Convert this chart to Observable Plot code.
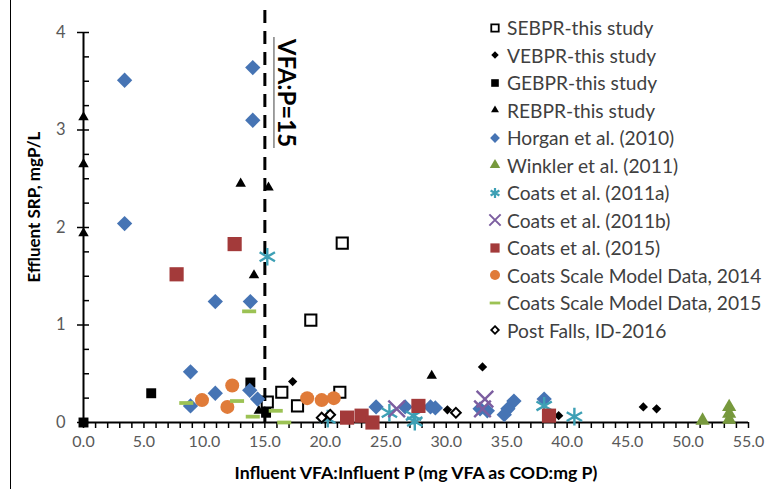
<!DOCTYPE html>
<html><head><meta charset="utf-8">
<script src="https://cdn.jsdelivr.net/npm/d3@7"></script>
<script src="https://cdn.jsdelivr.net/npm/@observablehq/plot@0.6"></script>
<style>
body{margin:0;background:#fff;}
#wrap{position:relative;width:771px;height:489px;overflow:hidden;font-family:Lato,"Open Sans",sans-serif;background:#fff;}
#frame{position:absolute;left:10px;top:-2px;width:800px;height:600px;border:1px solid #000;box-sizing:border-box;}
#legend{position:absolute;left:487px;top:14px;}
.row{height:27.5px;display:flex;align-items:center;font-size:19.2px;color:#404040;white-space:nowrap;}
.row svg{width:16px;height:16px;margin-right:4px;flex:none;}
#ytitle{position:absolute;left:33px;top:207px;transform:translate(-50%,-50%) rotate(-90deg);font-weight:bold;font-size:17px;color:#000;white-space:nowrap;}
#xtitle{position:absolute;left:416px;top:472px;transform:translate(-50%,-50%);font-weight:bold;font-size:17.7px;color:#000;white-space:nowrap;}
</style></head><body>
<div id="wrap"><div id="frame"></div></div>
<script>
// ---- data ----
const sebprX = [21.4, 18.8, 16.4, 17.7, 21.2, 15.2];
const sebprY = [1.84, 1.05, 0.31, 0.17, 0.31, 0.21];
const vebprX = [17.3, 15.0, 30.1, 33.0, 39.3, 46.3, 47.4];
const vebprY = [0.42, 0.12, 0.13, 0.57, 0.07, 0.16, 0.14];
const gebprX = [0, 5.6, 13.8, 15.1];
const gebprY = [0, 0.30, 0.41, 0.10];
const rebprX = [0, 0, 0, 13.0, 15.3, 14.1, 28.8, 14.5];
const rebprY = [3.13, 2.65, 1.94, 2.45, 2.41, 1.51, 0.48, 0.12];
const horganX = [3.4, 14.0, 14.0, 3.4, 10.9, 13.8, 8.85, 10.9, 8.85, 13.75, 14.4, 24.2, 26.6, 28.7, 29.1, 32.8, 33.4, 35.6, 35.1, 34.8, 38.1];
const horganY = [3.51, 3.64, 3.10, 2.04, 1.24, 1.24, 0.52, 0.30, 0.17, 0.33, 0.24, 0.16, 0.16, 0.16, 0.15, 0.14, 0.12, 0.22, 0.14, 0.08, 0.24];
const winklerX = [51.2, 53.4, 53.4, 53.4];
const winklerY = [0.02, 0.16, 0.09, 0.03];
const coats11aX = [15.2, 20.2, 25.3, 27.3, 27.4, 38.1, 40.6];
const coats11aY = [1.70, 0.04, 0.10, 0.07, 0.01, 0.17, 0.06];
const coats11bX = [25.9, 33.2, 33.0];
const coats11bY = [0.14, 0.24, 0.14];
const coats15X = [7.7, 12.5, 21.8, 23.0, 23.9, 27.7, 38.5];
const coats15Y = [1.52, 1.83, 0.05, 0.07, 0.0, 0.17, 0.07];
const model14X = [9.8, 11.9, 12.3, 18.5, 19.7, 20.7];
const model14Y = [0.23, 0.16, 0.38, 0.25, 0.23, 0.25];
const model15X = [8.5, 12.7, 13.7, 14.0, 15.9, 16.6];
const model15Y = [0.20, 0.22, 1.14, 0.06, 0.12, 0.0];
const postX = [19.7, 20.4, 30.8];
const postY = [0.05, 0.08, 0.10];

const xTickLabels = [0, 5, 10, 15, 20, 25, 30, 35, 40, 45, 50, 55];
const yTickLabels = [0, 1, 2, 3, 4];
const thresholdVFAP = 15;
const annotation = "VFA:P=15";
const xTitle = "Influent VFA:Influent P (mg VFA as COD:mg P)";
const yTitle = "Effluent SRP, mgP/L";

// custom dash symbol
const dash = {draw(ctx, size){const w = Math.sqrt(size); ctx.rect(-w*0.6, -w*0.16, w*1.2, w*0.32);}};
const symbolMap = {square: d3.symbolSquare, diamond2: d3.symbolDiamond2, triangle2: d3.symbolTriangle2,
  asterisk: d3.symbolAsterisk, times: d3.symbolTimes, circle: d3.symbolCircle};

const series = [
  {name:"SEBPR-this study", xs:sebprX, ys:sebprY, symbol:"square", r:6.3, fill:"none", stroke:"#000", sw:2, lr:4.2, lsw:1.8},
  {name:"VEBPR-this study", xs:vebprX, ys:vebprY, symbol:"diamond2", r:4.2, fill:"#000", stroke:"none", sw:0, lr:3.4},
  {name:"GEBPR-this study", xs:gebprX, ys:gebprY, symbol:"square", r:5.6, fill:"#000", stroke:"none", sw:0, lr:4.3},
  {name:"REBPR-this study", xs:rebprX, ys:rebprY, symbol:"triangle2", r:5.0, fill:"#000", stroke:"none", sw:0, lr:3.8},
  {name:"Horgan et al. (2010)", xs:horganX, ys:horganY, symbol:"diamond2", r:6.9, fill:"#4674b4", stroke:"none", sw:0, lr:4.4},
  {name:"Winkler et al. (2011)", xs:winklerX, ys:winklerY, symbol:"triangle2", r:6.8, fill:"#77993d", stroke:"none", sw:0, lr:5.0},
  {name:"Coats et al. (2011a)", xs:coats11aX, ys:coats11aY, symbol:"asterisk", r:8.4, fill:"none", stroke:"#3ea0b5", sw:2.4, lr:4.8, lsw:2.2},
  {name:"Coats et al. (2011b)", xs:coats11bX, ys:coats11bY, symbol:"times", r:7.6, fill:"none", stroke:"#7c5ea0", sw:2.4, lr:5.2, lsw:2},
  {name:"Coats et al. (2015)", xs:coats15X, ys:coats15Y, symbol:"square", r:8.0, fill:"#a33a3a", stroke:"none", sw:0, lr:5.2},
  {name:"Coats Scale Model Data, 2014", xs:model14X, ys:model14Y, symbol:"circle", r:7.0, fill:"#e07b39", stroke:"none", sw:0, lr:5.0},
  {name:"Coats Scale Model Data, 2015", xs:model15X, ys:model15Y, symbol:dash, r:6.6, fill:"#9cc254", stroke:"none", sw:0, lr:5.0},
  {name:"Post Falls, ID-2016", xs:postX, ys:postY, symbol:"diamond2", r:4.4, fill:"#fff", stroke:"#000", sw:2, lr:3.4, lsw:1.8}
];

const dotMarks = series.map(s => Plot.dot(s.xs.map((x,i)=>({x, y:s.ys[i]})), {
  x:"x", y:"y", symbol: s.symbol, r: s.r, fill: s.fill, stroke: s.stroke, strokeWidth: s.sw
}));

const chart = Plot.plot({
  width: 771, height: 489,
  marginLeft: 83, marginRight: 23, marginTop: 32, marginBottom: 67,
  x: {domain: [0, 55], label: null},
  y: {domain: [0, 4], label: null},
  style: {fontFamily: "Lato, 'Open Sans', sans-serif", fontSize: "16px", color: "#595959", background: "transparent", overflow: "visible"},
  marks: [
    Plot.axisX({ticks: d3.range(0, 56, 1), tickSize: 6, tickFormat: () => "", stroke: "#000", strokeWidth: 1.5, label: null}),
    Plot.axisX({ticks: xTickLabels, tickSize: 0, tickPadding: 13, tickFormat: d => d.toFixed(1), fill: "#595959", fontSize: 16, label: null}),
    Plot.axisY({ticks: d3.range(0, 4.001, 0.25), tickSize: 6, dx: 6, tickFormat: () => "", stroke: "#000", strokeWidth: 1.5, label: null}),
    Plot.axisY({ticks: yTickLabels, tickSize: 6, tickPadding: 12, tickFormat: d => String(d), stroke: "#000", strokeWidth: 1.5, fill: "#595959", fontSize: 16.5, label: null}),
    Plot.ruleY([0], {stroke: "#000", strokeWidth: 2}),
    Plot.ruleX([0], {y1: 0, y2: 4, stroke: "#000", strokeWidth: 2}),
    Plot.ruleX([thresholdVFAP], {y1: 0, y2: 4.23, stroke: "#000", strokeWidth: 3, strokeDasharray: "13,8"}),
    Plot.ruleX([15.75], {y1: 2.81, y2: 3.95, stroke: "#808080", strokeWidth: 1.5}),
    Plot.text([annotation], {x: 16.75, y: 3.38, rotate: 90, fontSize: 24, fontWeight: "bold", fill: "#000"}),
    ...dotMarks
  ]
});
const wrap = document.getElementById("wrap");
chart.style.position = "absolute"; chart.style.left = "0"; chart.style.top = "0";
wrap.appendChild(chart);

// legend
const leg = document.createElement("div"); leg.id = "legend";
for (const s of series) {
  const row = document.createElement("div"); row.className = "row";
  const svg = d3.create("svg").attr("viewBox", "-8 -8 16 16");
  const type = typeof s.symbol === "string" ? symbolMap[s.symbol] : s.symbol;
  svg.append("path").attr("d", d3.symbol(type, Math.PI * s.lr * s.lr)())
    .attr("fill", s.fill).attr("stroke", s.stroke).attr("stroke-width", s.lsw || 0);
  row.appendChild(svg.node());
  const t = document.createElement("span"); t.textContent = s.name; row.appendChild(t);
  leg.appendChild(row);
}
wrap.appendChild(leg);
const yt = document.createElement("div"); yt.id = "ytitle"; yt.textContent = yTitle; wrap.appendChild(yt);
const xt = document.createElement("div"); xt.id = "xtitle"; xt.textContent = xTitle; wrap.appendChild(xt);
</script>
</body></html>
